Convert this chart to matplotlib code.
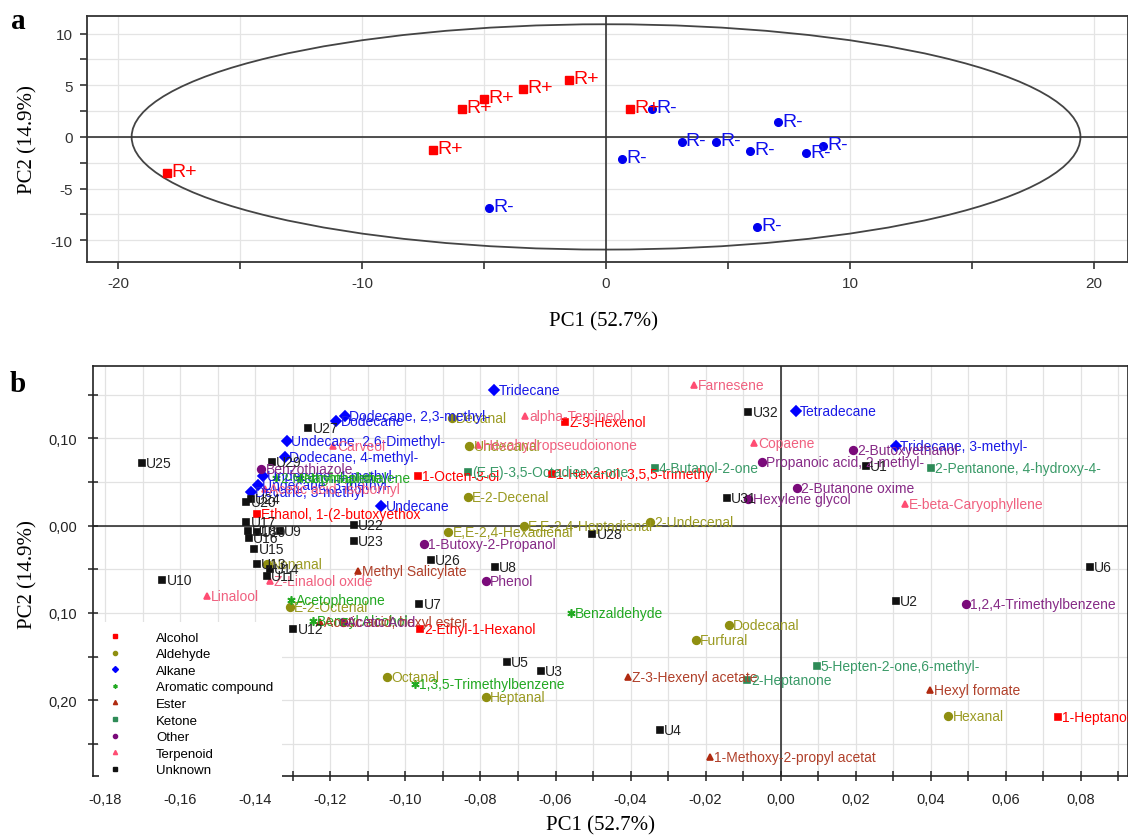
# PCA score plot (a) and loading plot (b) of volatile compounds
import matplotlib
matplotlib.use("Agg")
import matplotlib.pyplot as plt
from matplotlib.patches import Ellipse
from matplotlib.lines import Line2D
from matplotlib.ticker import FixedLocator, MultipleLocator

# ---- data, panel a (scores) ----
rplus_x = [-18.0, -7.1, -5.9, -5.0, -3.4, -1.5, 1.0]
rplus_y = [-3.5, -1.3, 2.7, 3.7, 4.6, 5.5, 2.7]
rminus_x = [-4.8, 0.65, 1.9, 3.1, 4.5, 5.9, 6.2, 7.05, 8.2, 8.9]
rminus_y = [-6.9, -2.1, 2.7, -0.45, -0.45, -1.35, -8.7, 1.4, -1.6, -0.9]

# ---- data, panel b (loadings) ----
alcohol_names = ["Ethanol, 1-(2-butoxyethox", "1-Octen-3-ol", "1-Hexanol, 3,5,5-trimethy",
                 "Z-3-Hexenol", "2-Ethyl-1-Hexanol", "1-Heptanol"]
alcohol_x = [-0.1397, -0.0966, -0.0610, -0.0575, -0.0962, 0.0739]
alcohol_y = [0.0133, 0.0571, 0.0590, 0.1189, -0.1183, -0.2186]

aldehyde_names = ["Decanal", "Undecanal", "E-2-Decenal", "E,E-2,4-Hexadienal",
                  "E,E-2,4-Heptadienal", "2-Undecenal", "Nonanal", "E-2-Octenal",
                  "Octanal", "Heptanal", "Furfural", "Dodecanal", "Hexanal"]
aldehyde_x = [-0.0876, -0.0830, -0.0834, -0.0886, -0.0684, -0.0348, -0.1370, -0.1308,
              -0.1049, -0.0786, -0.0226, -0.0138, 0.0447]
aldehyde_y = [0.1228, 0.0907, 0.0324, -0.0070, 0.0000, 0.0045, -0.0440, -0.0935,
              -0.1736, -0.1965, -0.1305, -0.1137, -0.2175]

alkane_names = ["Tridecane", "Dodecane, 2,3-methyl-", "Dodecane", "Undecane, 2,6-Dimethyl-",
                "Dodecane, 4-methyl-", "Undecane, 4-methyl-", "Undecane, 3-methyl-",
                "Decane, 3-methyl-", "Undecane", "Tetradecane", "Tridecane, 3-methyl-"]
alkane_x = [-0.0763, -0.1162, -0.1184, -0.1315, -0.1321, -0.1381, -0.1394, -0.1412,
            -0.1064, 0.0041, 0.0307]
alkane_y = [0.1555, 0.1258, 0.1200, 0.0964, 0.0789, 0.0564, 0.0468, 0.0381,
            0.0228, 0.1315, 0.0907]

aromatic_names = ["2-Methylnaphthalene", "Naphthalene", "Acetophenone", "Benzyl Alcohol",
                  "Benzaldehyde", "1,3,5-Trimethylbenzene"]
aromatic_x = [-0.1344, -0.1282, -0.1304, -0.1246, -0.0559, -0.0975]
aromatic_y = [0.0545, 0.0545, -0.0851, -0.1088, -0.1004, -0.1812]

ester_names = ["Methyl Salicylate", "Acetic acid, hexyl ester", "Z-3-Hexenyl acetate",
               "Hexyl formate", "1-Methoxy-2-propyl acetat"]
ester_x = [-0.1126, -0.1228, -0.0406, 0.0398, -0.0188]
ester_y = [-0.0516, -0.1107, -0.1736, -0.1881, -0.2651]

ketone_names = ["(E,E)-3,5-Octadien-2-one", "4-Butanol-2-one", "2-Pentanone, 4-hydroxy-4-",
                "5-Hepten-2-one,6-methyl-", "2-Heptanone"]
ketone_x = [-0.0833, -0.0335, 0.0400, 0.0096, -0.0090]
ketone_y = [0.0610, 0.0655, 0.0655, -0.1603, -0.1763]

other_names = ["Benzothiazole", "1-Butoxy-2-Propanol", "Phenol", "Acetic Acid",
               "Propanoic acid, 2-methyl-", "2-Butoxyethanol", "2-Butanone oxime",
               "Hexylene glycol", "1,2,4-Trimethylbenzene"]
other_x = [-0.1384, -0.0950, -0.0786, -0.1166, -0.0049, 0.0194, 0.0043, -0.0086, 0.0494]
other_y = [0.0648, -0.0211, -0.0630, -0.1107, 0.0724, 0.0869, 0.0427, 0.0304, -0.0897]

terpenoid_names = ["Farnesene", "alpha-Terpineol", "Hexahydropseudoionone", "Carveol",
                   "Copaene", "E-beta-Caryophyllene", "Linalool", "Z-Linalool oxide",
                   "Acetic acid, isobornyl"]
terpenoid_x = [-0.0231, -0.0682, -0.0806, -0.1193, -0.0071, 0.0332, -0.1530, -0.1362, -0.1375]
terpenoid_y = [0.1612, 0.1258, 0.0922, 0.0914, 0.0945, 0.0247, -0.0802, -0.0630, 0.0415]

unknown_names = ["U25", "U27", "U29", "U20", "U24", "U17", "U18", "U19", "U9", "U16", "U15",
                 "U13", "U14", "U11", "U10", "U12", "U22", "U23", "U26", "U8", "U7", "U28",
                 "U5", "U3", "U4", "U32", "U31", "U1", "U2", "U6"]
unknown_x = [-0.1702, -0.1259, -0.1357, -0.1424, -0.1413, -0.1424, -0.1421, -0.1397, -0.1335,
             -0.1417, -0.1403, -0.1397, -0.1362, -0.1370, -0.1648, -0.1299, -0.1138, -0.1138,
             -0.0932, -0.0762, -0.0963, -0.0502, -0.0730, -0.0639, -0.0322, -0.0086, -0.0144,
             0.0228, 0.0308, 0.0825]
unknown_y = [0.0716, 0.1117, 0.0730, 0.0273, 0.0300, 0.0038, -0.0060, -0.0070, -0.0065,
             -0.0145, -0.0268, -0.0439, -0.0497, -0.0580, -0.0622, -0.1183, 0.0010, -0.0180,
             -0.0394, -0.0477, -0.0897, -0.0096, -0.1565, -0.1660, -0.2339, 0.1296, 0.0316,
             0.0678, -0.0866, -0.0477]

xticks_b = [-0.18, -0.16, -0.14, -0.12, -0.10, -0.08, -0.06, -0.04, -0.02, 0.00, 0.02, 0.04,
            0.06, 0.08]
xticklabels_b = ["-0,18", "-0,16", "-0,14", "-0,12", "-0,10", "-0,08", "-0,06", "-0,04",
                 "-0,02", "0,00", "0,02", "0,04", "0,06", "0,08"]
yticks_b = [0.10, 0.00, -0.10, -0.20]
yticklabels_b = ["0,10", "0,00", "0,10", "0,20"]

groups = [
    ("Alcohol", alcohol_names, alcohol_x, alcohol_y, "s", "#ff0000", "#ff0000", 5),
    ("Aldehyde", aldehyde_names, aldehyde_x, aldehyde_y, "o", "#8f8f10", "#9a9a22", 5.5),
    ("Alkane", alkane_names, alkane_x, alkane_y, "D", "#0000ff", "#1a1ae6", 5),
    ("Aromatic compound", aromatic_names, aromatic_x, aromatic_y, (6, 2, 0), "#22aa22", "#22a822", 6),
    ("Ester", ester_names, ester_x, ester_y, "^", "#b02a10", "#b0402a", 5),
    ("Ketone", ketone_names, ketone_x, ketone_y, "s", "#2e8b57", "#3a9a68", 4.5),
    ("Other", other_names, other_x, other_y, "o", "#7a0a7a", "#862a86", 5.5),
    ("Terpenoid", terpenoid_names, terpenoid_x, terpenoid_y, "^", "#ff4d73", "#f0607f", 5),
    ("Unknown", unknown_names, unknown_x, unknown_y, "s", "#111111", "#222222", 5),
]

sans = ["Liberation Sans", "DejaVu Sans"]
narrow = ["Liberation Sans Narrow", "Liberation Sans", "DejaVu Sans"]
serif = ["Liberation Serif", "DejaVu Serif"]

fig = plt.figure(figsize=(11.28, 8.37), dpi=100)

# ---------------- panel a ----------------
ax1 = fig.add_axes([0.0767, 0.6858, 0.9233, 0.2939])
ax1.set_xlim(-21.3, 21.4)
ax1.set_ylim(-12.1, 11.7)
ax1.set_xticks([-20, -15, -10, -5, 0, 5, 10, 15, 20])
ax1.set_xticklabels(["-20", "", "-10", "", "0", "", "10", "", "20"])
ax1.set_yticks([-10, -7.5, -5, -2.5, 0, 2.5, 5, 7.5, 10])
ax1.set_yticklabels(["-10", "", "-5", "", "0", "", "5", "", "10"])
ax1.grid(True, color="#e4e4e4", lw=0.9)
ax1.set_axisbelow(True)
ax1.tick_params(direction="out", length=5, width=1.2, color="#333333", labelsize=11, pad=5)
for lab in ax1.get_xticklabels() + ax1.get_yticklabels():
    lab.set_family(narrow)
    lab.set_color("#333333")
for sp in ax1.spines.values():
    sp.set_color("#333333")
    sp.set_linewidth(1.3)
ax1.axhline(0, color="#333333", lw=1.2)
ax1.axvline(0, color="#333333", lw=1.2)
ax1.add_patch(Ellipse((0, 0), 2 * 19.45, 2 * 10.9, fill=False, edgecolor="#444444", lw=1.3))

ax1.plot(rplus_x, rplus_y, "s", color="#ff0000", ms=6, ls="none")
for x, y in zip(rplus_x, rplus_y):
    ax1.annotate("R+", (x, y), xytext=(3, 1), textcoords="offset points", va="center",
                 color="#ff0000", fontsize=14, family=narrow)
ax1.plot(rminus_x, rminus_y, "o", color="#0000ee", ms=5.5, ls="none")
for x, y in zip(rminus_x, rminus_y):
    ax1.annotate("R-", (x, y), xytext=(3, 1), textcoords="offset points", va="center",
                 color="#1010ee", fontsize=14, family=narrow)

# ---------------- panel b ----------------
ax2 = fig.add_axes([0.0824, 0.0717, 0.9176, 0.4898])
ax2.set_xlim(-0.1833, 0.0926)
ax2.set_ylim(-0.2865, 0.1826)
ax2.xaxis.set_major_locator(FixedLocator(xticks_b))
ax2.set_xticklabels(xticklabels_b)
ax2.xaxis.set_minor_locator(MultipleLocator(0.01))
ax2.yaxis.set_major_locator(FixedLocator(yticks_b))
ax2.set_yticklabels(yticklabels_b)
ax2.yaxis.set_minor_locator(MultipleLocator(0.05))
ax2.grid(True, which="both", color="#e2e2e2", lw=0.9)
ax2.set_axisbelow(True)
ax2.tick_params(which="both", direction="inout", length=7, width=1.1, color="#222222",
                labelsize=10.5, pad=8)
for lab in ax2.get_xticklabels() + ax2.get_yticklabels():
    lab.set_family(narrow)
    lab.set_color("#222222")
for sp in ax2.spines.values():
    sp.set_color("#222222")
    sp.set_linewidth(1.2)
ax2.axhline(0, color="#222222", lw=1.1)
ax2.axvline(0, color="#222222", lw=1.1)

handles = []
for cat, names, xs, ys, mk, mcol, tcol, ms in groups:
    ax2.plot(xs, ys, marker=mk, color=mcol, mec=mcol, ms=ms, ls="none", mew=1.2)
    for n, x, y in zip(names, xs, ys):
        ax2.annotate(n, (x, y), xytext=(3, 0), textcoords="offset points", va="center",
                     color=tcol, fontsize=10, family=sans)
    handles.append(Line2D([], [], marker=mk, color=mcol, mec=mcol, ms=3, ls="none",
                          label=cat))

leg = ax2.legend(handles=handles, loc="upper left", bbox_to_anchor=(0.006, 0.375),
                 frameon=True, fancybox=False, edgecolor="none", facecolor="white",
                 framealpha=1, prop={"family": sans, "size": 9.5}, handlelength=1.0,
                 handletextpad=2.6, labelspacing=0.33, borderpad=0.7, borderaxespad=0)
leg.set_zorder(5)

# ---------------- figure texts ----------------
fig.text(0.535, 0.615, "PC1 (52.7%)", ha="center", va="center", fontsize=15, family=serif)
fig.text(0.532, 0.0135, "PC1 (52.7%)", ha="center", va="center", fontsize=15, family=serif)
fig.text(0.025, 0.833, "PC2 (14.9%)", ha="center", va="center", rotation=90, fontsize=15,
         family=serif)
fig.text(0.025, 0.313, "PC2 (14.9%)", ha="center", va="center", rotation=90, fontsize=15,
         family=serif)
fig.text(0.016, 0.974, "a", ha="center", va="center", fontsize=21, fontweight="bold",
         family=serif)
fig.text(0.016, 0.541, "b", ha="center", va="center", fontsize=21, fontweight="bold",
         family=serif)

fig.savefig("out.png", dpi=100)
